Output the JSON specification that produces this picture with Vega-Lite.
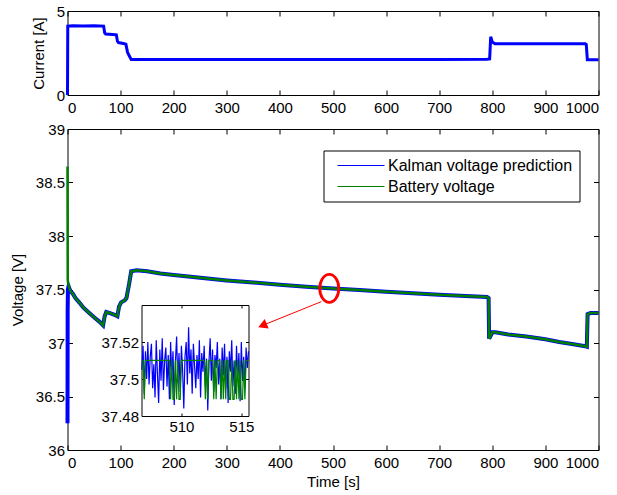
{
  "$schema": "https://vega.github.io/schema/vega-lite/v6.json",
  "bounds": "flush",
  "spacing": 34,
  "padding": {"left": 10.5, "top": 4, "right": 5, "bottom": 5},
  "config": {
    "font": "Liberation Sans",
    "view": {"stroke": null},
    "axis": {
      "grid": false, "domainColor": "black", "tickColor": "black", "labelColor": "black",
      "titleColor": "black", "labelFontSize": 15, "titleFontSize": 15, "titleFontWeight": "normal",
      "labelFont": "Liberation Sans", "titleFont": "Liberation Sans", "tickSize": -5, "labelPadding": 8,
      "domainWidth": 1, "tickWidth": 1
    },
    "axisX": {"labelPadding": 10},
    "axisY": {"titlePadding": 9.5}
  },
  "datasets": {
    "current": [
      {"t": 0, "i": 0}, {"t": 0.5, "i": 4.1}, {"t": 10, "i": 4.12}, {"t": 30, "i": 4.1}, {"t": 50, "i": 4.12},
      {"t": 68, "i": 4.1}, {"t": 70, "i": 3.7}, {"t": 72, "i": 3.63}, {"t": 85, "i": 3.6}, {"t": 92, "i": 3.58},
      {"t": 94, "i": 3.2}, {"t": 96, "i": 3.12}, {"t": 105, "i": 3.07}, {"t": 110, "i": 3.02}, {"t": 113, "i": 2.55},
      {"t": 116, "i": 2.35}, {"t": 120, "i": 2.12}, {"t": 300, "i": 2.12}, {"t": 500, "i": 2.12}, {"t": 700, "i": 2.12},
      {"t": 790, "i": 2.13}, {"t": 795, "i": 2.15}, {"t": 797, "i": 3.47}, {"t": 800, "i": 3.15}, {"t": 805, "i": 3.05},
      {"t": 900, "i": 3.05}, {"t": 975, "i": 3.05}, {"t": 977, "i": 3.0}, {"t": 979, "i": 2.1}, {"t": 1000, "i": 2.1}
    ],
    "kalman": [
      {"t": 0, "v": 36.25, "s": "Kalman voltage prediction"}, {"t": 0.3, "v": 37.3, "s": "Kalman voltage prediction"},
      {"t": 0.8, "v": 37.5, "s": "Kalman voltage prediction"}, {"t": 2, "v": 37.53, "s": "Kalman voltage prediction"},
      {"t": 5, "v": 37.49, "s": "Kalman voltage prediction"}, {"t": 10, "v": 37.46, "s": "Kalman voltage prediction"},
      {"t": 15, "v": 37.42, "s": "Kalman voltage prediction"}, {"t": 22, "v": 37.38, "s": "Kalman voltage prediction"},
      {"t": 30, "v": 37.33, "s": "Kalman voltage prediction"}, {"t": 41, "v": 37.28, "s": "Kalman voltage prediction"},
      {"t": 50, "v": 37.24, "s": "Kalman voltage prediction"}, {"t": 60, "v": 37.2, "s": "Kalman voltage prediction"},
      {"t": 67, "v": 37.165, "s": "Kalman voltage prediction"}, {"t": 70, "v": 37.25, "s": "Kalman voltage prediction"},
      {"t": 73, "v": 37.29, "s": "Kalman voltage prediction"}, {"t": 80, "v": 37.28, "s": "Kalman voltage prediction"},
      {"t": 90, "v": 37.26, "s": "Kalman voltage prediction"}, {"t": 94, "v": 37.25, "s": "Kalman voltage prediction"},
      {"t": 97, "v": 37.34, "s": "Kalman voltage prediction"}, {"t": 101, "v": 37.38, "s": "Kalman voltage prediction"},
      {"t": 108, "v": 37.4, "s": "Kalman voltage prediction"}, {"t": 111, "v": 37.42, "s": "Kalman voltage prediction"},
      {"t": 116, "v": 37.55, "s": "Kalman voltage prediction"}, {"t": 120, "v": 37.67, "s": "Kalman voltage prediction"},
      {"t": 130, "v": 37.68, "s": "Kalman voltage prediction"}, {"t": 150, "v": 37.67, "s": "Kalman voltage prediction"},
      {"t": 175, "v": 37.65, "s": "Kalman voltage prediction"}, {"t": 200, "v": 37.635, "s": "Kalman voltage prediction"},
      {"t": 250, "v": 37.61, "s": "Kalman voltage prediction"}, {"t": 300, "v": 37.585, "s": "Kalman voltage prediction"},
      {"t": 350, "v": 37.565, "s": "Kalman voltage prediction"}, {"t": 400, "v": 37.545, "s": "Kalman voltage prediction"},
      {"t": 450, "v": 37.525, "s": "Kalman voltage prediction"}, {"t": 500, "v": 37.51, "s": "Kalman voltage prediction"},
      {"t": 550, "v": 37.495, "s": "Kalman voltage prediction"}, {"t": 600, "v": 37.48, "s": "Kalman voltage prediction"},
      {"t": 650, "v": 37.465, "s": "Kalman voltage prediction"}, {"t": 700, "v": 37.452, "s": "Kalman voltage prediction"},
      {"t": 750, "v": 37.44, "s": "Kalman voltage prediction"}, {"t": 790, "v": 37.43, "s": "Kalman voltage prediction"},
      {"t": 793, "v": 37.42, "s": "Kalman voltage prediction"}, {"t": 794, "v": 37.04, "s": "Kalman voltage prediction"},
      {"t": 797, "v": 37.07, "s": "Kalman voltage prediction"}, {"t": 800, "v": 37.1, "s": "Kalman voltage prediction"},
      {"t": 806, "v": 37.1, "s": "Kalman voltage prediction"}, {"t": 830, "v": 37.08, "s": "Kalman voltage prediction"},
      {"t": 864, "v": 37.06, "s": "Kalman voltage prediction"}, {"t": 900, "v": 37.035, "s": "Kalman voltage prediction"},
      {"t": 926, "v": 37.01, "s": "Kalman voltage prediction"}, {"t": 950, "v": 36.99, "s": "Kalman voltage prediction"},
      {"t": 975, "v": 36.97, "s": "Kalman voltage prediction"}, {"t": 978, "v": 36.965, "s": "Kalman voltage prediction"},
      {"t": 979.5, "v": 37.27, "s": "Kalman voltage prediction"}, {"t": 985, "v": 37.28, "s": "Kalman voltage prediction"},
      {"t": 1000, "v": 37.28, "s": "Kalman voltage prediction"}
    ],
    "battery": [
      {"t": 0, "v": 38.65, "s": "Battery voltage"}, {"t": 0.4, "v": 37.6, "s": "Battery voltage"},
      {"t": 1, "v": 37.56, "s": "Battery voltage"}, {"t": 5, "v": 37.49, "s": "Battery voltage"},
      {"t": 10, "v": 37.46, "s": "Battery voltage"}, {"t": 15, "v": 37.42, "s": "Battery voltage"},
      {"t": 22, "v": 37.38, "s": "Battery voltage"}, {"t": 30, "v": 37.33, "s": "Battery voltage"},
      {"t": 41, "v": 37.28, "s": "Battery voltage"}, {"t": 50, "v": 37.24, "s": "Battery voltage"},
      {"t": 60, "v": 37.2, "s": "Battery voltage"}, {"t": 67, "v": 37.165, "s": "Battery voltage"},
      {"t": 70, "v": 37.25, "s": "Battery voltage"}, {"t": 73, "v": 37.29, "s": "Battery voltage"},
      {"t": 80, "v": 37.28, "s": "Battery voltage"}, {"t": 90, "v": 37.26, "s": "Battery voltage"},
      {"t": 94, "v": 37.25, "s": "Battery voltage"}, {"t": 97, "v": 37.34, "s": "Battery voltage"},
      {"t": 101, "v": 37.38, "s": "Battery voltage"}, {"t": 108, "v": 37.4, "s": "Battery voltage"},
      {"t": 111, "v": 37.42, "s": "Battery voltage"}, {"t": 116, "v": 37.55, "s": "Battery voltage"},
      {"t": 120, "v": 37.67, "s": "Battery voltage"}, {"t": 130, "v": 37.68, "s": "Battery voltage"},
      {"t": 150, "v": 37.67, "s": "Battery voltage"}, {"t": 175, "v": 37.65, "s": "Battery voltage"},
      {"t": 200, "v": 37.635, "s": "Battery voltage"}, {"t": 250, "v": 37.61, "s": "Battery voltage"},
      {"t": 300, "v": 37.585, "s": "Battery voltage"}, {"t": 350, "v": 37.565, "s": "Battery voltage"},
      {"t": 400, "v": 37.545, "s": "Battery voltage"}, {"t": 450, "v": 37.525, "s": "Battery voltage"},
      {"t": 500, "v": 37.51, "s": "Battery voltage"}, {"t": 550, "v": 37.495, "s": "Battery voltage"},
      {"t": 600, "v": 37.48, "s": "Battery voltage"}, {"t": 650, "v": 37.465, "s": "Battery voltage"},
      {"t": 700, "v": 37.452, "s": "Battery voltage"}, {"t": 750, "v": 37.44, "s": "Battery voltage"},
      {"t": 790, "v": 37.43, "s": "Battery voltage"}, {"t": 793, "v": 37.42, "s": "Battery voltage"},
      {"t": 794, "v": 37.04, "s": "Battery voltage"}, {"t": 797, "v": 37.07, "s": "Battery voltage"},
      {"t": 800, "v": 37.1, "s": "Battery voltage"}, {"t": 806, "v": 37.1, "s": "Battery voltage"},
      {"t": 830, "v": 37.08, "s": "Battery voltage"}, {"t": 864, "v": 37.06, "s": "Battery voltage"},
      {"t": 900, "v": 37.035, "s": "Battery voltage"}, {"t": 926, "v": 37.01, "s": "Battery voltage"},
      {"t": 950, "v": 36.99, "s": "Battery voltage"}, {"t": 975, "v": 36.97, "s": "Battery voltage"},
      {"t": 978, "v": 36.965, "s": "Battery voltage"}, {"t": 979.5, "v": 37.27, "s": "Battery voltage"},
      {"t": 985, "v": 37.28, "s": "Battery voltage"}, {"t": 1000, "v": 37.28, "s": "Battery voltage"}
    ],
    "inset": [
      {"t": 506.7, "b": 37.505, "g": 37.5101}, {"t": 506.8, "b": 37.518, "g": 37.5101}, {"t": 506.9, "b": 37.492, "g": 37.489},
      {"t": 507.0, "b": 37.515, "g": 37.5101}, {"t": 507.1, "b": 37.5, "g": 37.5101}, {"t": 507.2, "b": 37.52, "g": 37.5101},
      {"t": 507.3, "b": 37.497, "g": 37.5101}, {"t": 507.4, "b": 37.512, "g": 37.5101}, {"t": 507.5, "b": 37.519, "g": 37.5101},
      {"t": 507.6, "b": 37.495, "g": 37.5101}, {"t": 507.7, "b": 37.508, "g": 37.5101}, {"t": 507.8, "b": 37.49, "g": 37.5101},
      {"t": 507.9, "b": 37.521, "g": 37.5101}, {"t": 508.0, "b": 37.503, "g": 37.5101}, {"t": 508.1, "b": 37.487, "g": 37.5101},
      {"t": 508.2, "b": 37.516, "g": 37.5101}, {"t": 508.3, "b": 37.499, "g": 37.5101}, {"t": 508.4, "b": 37.522, "g": 37.5101},
      {"t": 508.5, "b": 37.494, "g": 37.5101}, {"t": 508.6, "b": 37.51, "g": 37.5101}, {"t": 508.7, "b": 37.517, "g": 37.5101},
      {"t": 508.8, "b": 37.496, "g": 37.5101}, {"t": 508.9, "b": 37.513, "g": 37.5101}, {"t": 509.0, "b": 37.489, "g": 37.5101},
      {"t": 509.1, "b": 37.52, "g": 37.489}, {"t": 509.2, "b": 37.501, "g": 37.5101}, {"t": 509.3, "b": 37.515, "g": 37.489},
      {"t": 509.4, "b": 37.486, "g": 37.489}, {"t": 509.5, "b": 37.509, "g": 37.5101}, {"t": 509.6, "b": 37.523, "g": 37.489},
      {"t": 509.7, "b": 37.498, "g": 37.5101}, {"t": 509.8, "b": 37.514, "g": 37.489}, {"t": 509.9, "b": 37.493, "g": 37.489},
      {"t": 510.0, "b": 37.518, "g": 37.5101}, {"t": 510.1, "b": 37.505, "g": 37.5101}, {"t": 510.2, "b": 37.484, "g": 37.5101},
      {"t": 510.3, "b": 37.512, "g": 37.5101}, {"t": 510.4, "b": 37.52, "g": 37.5101}, {"t": 510.5, "b": 37.497, "g": 37.5101},
      {"t": 510.6, "b": 37.528, "g": 37.5101}, {"t": 510.7, "b": 37.503, "g": 37.5101}, {"t": 510.8, "b": 37.516, "g": 37.5101},
      {"t": 510.9, "b": 37.492, "g": 37.5101}, {"t": 511.0, "b": 37.519, "g": 37.5101}, {"t": 511.1, "b": 37.507, "g": 37.5101},
      {"t": 511.2, "b": 37.495, "g": 37.5101}, {"t": 511.3, "b": 37.513, "g": 37.5101}, {"t": 511.4, "b": 37.5, "g": 37.5101},
      {"t": 511.5, "b": 37.521, "g": 37.5101}, {"t": 511.6, "b": 37.49, "g": 37.5101}, {"t": 511.7, "b": 37.514, "g": 37.5101},
      {"t": 511.8, "b": 37.504, "g": 37.5101}, {"t": 511.9, "b": 37.518, "g": 37.5101}, {"t": 512.0, "b": 37.496, "g": 37.489},
      {"t": 512.1, "b": 37.511, "g": 37.5101}, {"t": 512.2, "b": 37.483, "g": 37.489}, {"t": 512.3, "b": 37.509, "g": 37.5101},
      {"t": 512.4, "b": 37.522, "g": 37.5101}, {"t": 512.5, "b": 37.499, "g": 37.5101}, {"t": 512.6, "b": 37.516, "g": 37.5101},
      {"t": 512.7, "b": 37.493, "g": 37.489}, {"t": 512.8, "b": 37.513, "g": 37.5101}, {"t": 512.9, "b": 37.506, "g": 37.489},
      {"t": 513.0, "b": 37.52, "g": 37.5101}, {"t": 513.1, "b": 37.497, "g": 37.5101}, {"t": 513.2, "b": 37.511, "g": 37.5101},
      {"t": 513.3, "b": 37.489, "g": 37.489}, {"t": 513.4, "b": 37.517, "g": 37.5101}, {"t": 513.5, "b": 37.502, "g": 37.489},
      {"t": 513.6, "b": 37.519, "g": 37.5101}, {"t": 513.7, "b": 37.495, "g": 37.489}, {"t": 513.8, "b": 37.512, "g": 37.5101},
      {"t": 513.9, "b": 37.487, "g": 37.5101}, {"t": 514.0, "b": 37.515, "g": 37.489}, {"t": 514.1, "b": 37.504, "g": 37.489},
      {"t": 514.2, "b": 37.521, "g": 37.5101}, {"t": 514.3, "b": 37.496, "g": 37.489}, {"t": 514.4, "b": 37.51, "g": 37.489},
      {"t": 514.5, "b": 37.492, "g": 37.5101}, {"t": 514.6, "b": 37.518, "g": 37.489}, {"t": 514.7, "b": 37.501, "g": 37.5101},
      {"t": 514.8, "b": 37.514, "g": 37.489}, {"t": 514.9, "b": 37.488, "g": 37.5101}, {"t": 515.0, "b": 37.52, "g": 37.489},
      {"t": 515.1, "b": 37.499, "g": 37.489}, {"t": 515.2, "b": 37.512, "g": 37.5101}, {"t": 515.3, "b": 37.495, "g": 37.489},
      {"t": 515.4, "b": 37.517, "g": 37.5101}, {"t": 515.5, "b": 37.506, "g": 37.5101}, {"t": 515.6, "b": 37.515, "g": 37.5101}
    ],
    "ellipse": [{"t": 493, "v": 37.51}],
    "arrow": [{"t": 477.8, "v": 37.386, "t2": 367.2, "v2": 37.164}],
    "head": [{"t": 367.2, "v": 37.164}]
  },
  "vconcat": [
    {
      "width": 531, "height": 84,
      "layer": [
        {
          "data": {"name": "current"},
          "mark": {"type": "line", "color": "#0000ff", "strokeWidth": 3},
          "encoding": {
            "x": {"field": "t", "type": "quantitative", "scale": {"domain": [0, 1000], "nice": false},
              "axis": {"orient": "bottom", "title": null, "format": "d", "values": [0, 100, 200, 300, 400, 500, 600, 700, 800, 900, 1000]}},
            "y": {"field": "i", "type": "quantitative", "scale": {"domain": [0, 5], "nice": false},
              "axis": {"orient": "left", "title": "Current [A]", "values": [0, 5]}}
          }
        },
        {
          "data": {"name": "current"},
          "mark": {"type": "point", "opacity": 0},
          "encoding": {
            "x": {"field": "t", "type": "quantitative",
              "axis": {"orient": "top", "title": null, "labels": false, "values": [0, 100, 200, 300, 400, 500, 600, 700, 800, 900, 1000]}},
            "y": {"field": "i", "type": "quantitative",
              "axis": {"orient": "right", "title": null, "labels": false, "values": [0, 5]}}
          }
        }
      ],
      "resolve": {"axis": {"x": "independent", "y": "independent"}}
    },
    {
      "width": 531, "height": 321,
      "layer": [
        {
          "layer": [
            {
              "data": {"name": "kalman"},
              "mark": {"type": "line", "strokeWidth": 1},
              "encoding": {
                "x": {"field": "t", "type": "quantitative", "scale": {"domain": [0, 1000], "nice": false},
                  "axis": {"orient": "bottom", "title": "Time [s]", "format": "d", "values": [0, 100, 200, 300, 400, 500, 600, 700, 800, 900, 1000]}},
                "y": {"field": "v", "type": "quantitative", "scale": {"domain": [36, 39], "nice": false, "zero": false},
                  "axis": {"orient": "left", "title": "Voltage [V]", "values": [36, 36.5, 37, 37.5, 38, 38.5, 39], "format": "~g"}},
                "color": {"field": "s", "type": "nominal",
                  "scale": {"domain": ["Kalman voltage prediction", "Battery voltage"], "range": ["#0000ff", "#008000"]},
                  "legend": {"orient": "none", "legendX": 256, "legendY": 139.5, "title": null, "strokeColor": "black",
                    "fillColor": "white", "padding": 7, "symbolType": "M-23.5,0H23.5", "symbolSize": 4, "symbolStrokeWidth": 1,
                    "symbolOffset": 22.5, "labelLimit": 0,
                    "labelFontSize": 16, "labelFont": "Liberation Sans", "labelColor": "black", "labelOffset": 19, "rowPadding": 5, "cornerRadius": 0}}
              }
            },
            {
              "data": {"name": "kalman"},
              "mark": {"type": "line", "strokeWidth": 4, "color": "#0000ff"},
              "encoding": {
                "x": {"field": "t", "type": "quantitative"},
                "y": {"field": "v", "type": "quantitative"}
              }
            },
            {
              "data": {"name": "battery"},
              "mark": {"type": "line", "strokeWidth": 2.5, "color": "#008000"},
              "encoding": {
                "x": {"field": "t", "type": "quantitative"},
                "y": {"field": "v", "type": "quantitative"}
              }
            }
          ]
        },
        {
          "data": {"name": "kalman"},
          "mark": {"type": "point", "opacity": 0},
          "encoding": {
            "x": {"field": "t", "type": "quantitative", "scale": {"domain": [0, 1000], "nice": false},
              "axis": {"orient": "top", "title": null, "labels": false, "values": [0, 100, 200, 300, 400, 500, 600, 700, 800, 900, 1000]}},
            "y": {"field": "v", "type": "quantitative", "scale": {"domain": [36, 39], "nice": false, "zero": false},
              "axis": {"orient": "right", "title": null, "labels": false, "values": [36, 36.5, 37, 37.5, 38, 38.5, 39]}}
          }
        },
        {
          "layer": [
            {
              "data": {"name": "ellipse"},
              "mark": {"type": "point", "shape": "M0,-1A0.68,1 0 1,1 0,1A0.68,1 0 1,1 0,-1Z", "size": 784, "filled": false, "color": "#ff0000", "strokeWidth": 2.8, "opacity": 1},
              "encoding": {
                "x": {"field": "t", "type": "quantitative", "scale": {"domain": [0, 1000], "nice": false}, "axis": null},
                "y": {"field": "v", "type": "quantitative", "scale": {"domain": [36, 39], "nice": false, "zero": false}, "axis": null}
              }
            },
            {
              "data": {"name": "arrow"},
              "mark": {"type": "rule", "color": "#ff0000", "strokeWidth": 1},
              "encoding": {
                "x": {"field": "t", "type": "quantitative"},
                "y": {"field": "v", "type": "quantitative"},
                "x2": {"field": "t2"},
                "y2": {"field": "v2"}
              }
            },
            {
              "data": {"name": "head"},
              "mark": {"type": "point", "shape": "triangle-up", "size": 110, "filled": true, "color": "#ff0000", "angle": 248, "opacity": 1},
              "encoding": {
                "x": {"field": "t", "type": "quantitative"},
                "y": {"field": "v", "type": "quantitative"}
              }
            }
          ]
        },
        {
          "layer": [
            {
              "layer": [
                {
                  "data": {"name": "inset"},
                  "mark": {"type": "line", "color": "#0000ff", "strokeWidth": 1.2},
                  "encoding": {
                    "x": {"field": "t", "type": "quantitative", "scale": {"domain": [506.67, 515.6], "nice": false, "range": [74, 181]},
                      "axis": {"orient": "bottom", "title": null, "values": [510, 515], "format": "d", "offset": -34, "tickSize": -3, "labelPadding": 6}},
                    "y": {"field": "b", "type": "quantitative", "scale": {"domain": [37.48, 37.54], "nice": false, "zero": false, "range": [287, 176]},
                      "axis": {"orient": "left", "title": null, "values": [37.48, 37.5, 37.52], "format": "~g", "offset": -74, "tickSize": -3, "labelPadding": 6}}
                  }
                },
                {
                  "data": {"name": "inset"},
                  "mark": {"type": "line", "color": "#008000", "strokeWidth": 1.2},
                  "encoding": {
                    "x": {"field": "t", "type": "quantitative"},
                    "y": {"field": "g", "type": "quantitative"}
                  }
                }
              ]
            },
            {
              "data": {"name": "inset"},
              "mark": {"type": "point", "opacity": 0},
              "encoding": {
                "x": {"field": "t", "type": "quantitative",
                  "axis": {"orient": "top", "title": null, "labels": false, "values": [510, 515], "offset": -176, "tickSize": -3}},
                "y": {"field": "b", "type": "quantitative",
                  "axis": {"orient": "right", "title": null, "labels": false, "values": [37.48, 37.5, 37.52], "offset": -350, "tickSize": -3}}
              }
            }
          ],
          "resolve": {"axis": {"x": "independent", "y": "independent"}}
        }
      ],
      "resolve": {"scale": {"x": "independent", "y": "independent"}, "axis": {"x": "independent", "y": "independent"}}
    }
  ]
}
